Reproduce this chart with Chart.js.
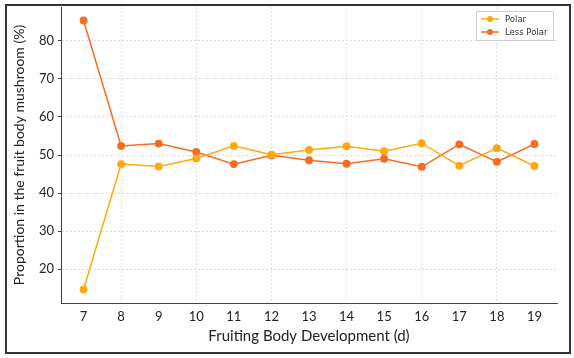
<!DOCTYPE html>
<html>
<head>
<meta charset="utf-8">
<script src="https://cdn.jsdelivr.net/npm/chart.js@4"></script>
<style>
  html, body { margin: 0; padding: 0; background: #fff; }
  #wrap { position: relative; width: 574px; height: 358px; }
  #frame { position: absolute; left: 5px; top: 4px; width: 562px; height: 346px; border: 2px solid #333; pointer-events: none; }
  canvas { position: absolute; left: 0; top: 0; }
</style>
</head>
<body>
<div id="wrap">
  <canvas id="chart" width="574" height="358"></canvas>
  <div id="frame"></div>
</div>
<script>
const days = [7, 8, 9, 10, 11, 12, 13, 14, 15, 16, 17, 18, 19];
const polar = [14.6, 47.6, 47.0, 49.1, 52.4, 50.1, 51.3, 52.3, 51.0, 53.1, 47.2, 51.8, 47.1];
const lessPolar = [85.4, 52.4, 53.0, 50.8, 47.6, 49.9, 48.6, 47.7, 49.0, 46.9, 52.8, 48.2, 52.9];
const yTicks = [20, 30, 40, 50, 60, 70, 80];

const tickFont = { family: 'Lato, "Open Sans", sans-serif', size: 13 };

// matplotlib-style legend box inside the plot, top right
const boxLegend = {
  id: 'boxLegend',
  afterDraw(chart) {
    const c = chart.ctx;
    const x0 = 476, y0 = 11, w = 77, h = 29;
    c.save();
    c.fillStyle = 'rgba(255,255,255,0.9)';
    c.strokeStyle = '#d0d0d0';
    c.lineWidth = 1;
    c.fillRect(x0, y0, w, h);
    c.strokeRect(x0 + 0.5, y0 + 0.5, w, h);
    c.font = '8.5px "DejaVu Sans", sans-serif';
    c.textBaseline = 'middle';
    chart.data.datasets.forEach((ds, i) => {
      const y = y0 + 8 + i * 13;
      c.strokeStyle = ds.borderColor;
      c.lineWidth = 1.5;
      c.beginPath();
      c.moveTo(x0 + 5, y);
      c.lineTo(x0 + 23, y);
      c.stroke();
      c.fillStyle = ds.borderColor;
      c.beginPath();
      c.arc(x0 + 14, y, 3, 0, Math.PI * 2);
      c.fill();
      c.fillStyle = '#333';
      c.fillText(ds.label, x0 + 29, y + 0.5);
    });
    c.restore();
  }
};

new Chart(document.getElementById('chart'), {
  type: 'line',
  data: {
    datasets: [{
      label: 'Polar',
      data: days.map((d, i) => ({ x: d, y: polar[i] })),
      borderColor: '#FFA90F',
      backgroundColor: '#FFA90F',
      borderWidth: 1.5,
      pointRadius: 3.2,
      pointHoverRadius: 3.2
    }, {
      label: 'Less Polar',
      data: days.map((d, i) => ({ x: d, y: lessPolar[i] })),
      borderColor: '#F76B22',
      backgroundColor: '#F76B22',
      borderWidth: 1.5,
      pointRadius: 3.2,
      pointHoverRadius: 3.2
    }]
  },
  options: {
    responsive: false,
    animation: false,
    layout: { padding: { left: 11, right: 17, top: 7, bottom: 13 } },
    plugins: { legend: { display: false }, tooltip: { enabled: false } },
    scales: {
      x: {
        type: 'linear',
        min: 6.4,
        max: 19.6,
        afterBuildTicks: (scale) => { scale.ticks = days.map(v => ({ value: v })); },
        afterFit: (scale) => { scale.height = 42; scale.paddingLeft = 0; scale.paddingRight = 0; },
        ticks: { color: '#222', font: tickFont, padding: 6, maxRotation: 0, autoSkip: false },
        grid: {
          color: (ctx) => (ctx.tick && ctx.tick.value % 2 === 0) ? '#d6d6d6' : 'transparent',
          drawTicks: false,
          lineWidth: 0.8
        },
        border: { display: true, color: '#444', width: 1, dash: [2, 2] },
        title: {
          display: true,
          text: 'Fruiting Body Development (d)',
          color: '#222',
          font: { family: 'Lato, "Open Sans", sans-serif', size: 15 },
          padding: { top: 2, bottom: 0 }
        }
      },
      y: {
        min: 11.06,
        max: 88.94,
        afterBuildTicks: (scale) => { scale.ticks = yTicks.map(v => ({ value: v })); },
        afterFit: (scale) => { scale.width = 50; scale.paddingTop = 0; scale.paddingBottom = 0; },
        ticks: { color: '#222', font: tickFont, padding: 4 },
        grid: { color: '#d6d6d6', lineWidth: 0.8, tickLength: 3, tickColor: '#444', tickWidth: 1 },
        border: { display: true, color: '#444', width: 1, dash: [2, 2] },
        title: {
          display: true,
          text: 'Proportion in the fruit body mushroom (%)',
          color: '#222',
          font: { family: 'Lato, "Open Sans", sans-serif', size: 14 },
          padding: { top: 0, bottom: 4 }
        }
      }
    }
  },
  plugins: [boxLegend]
});
</script>
</body>
</html>
